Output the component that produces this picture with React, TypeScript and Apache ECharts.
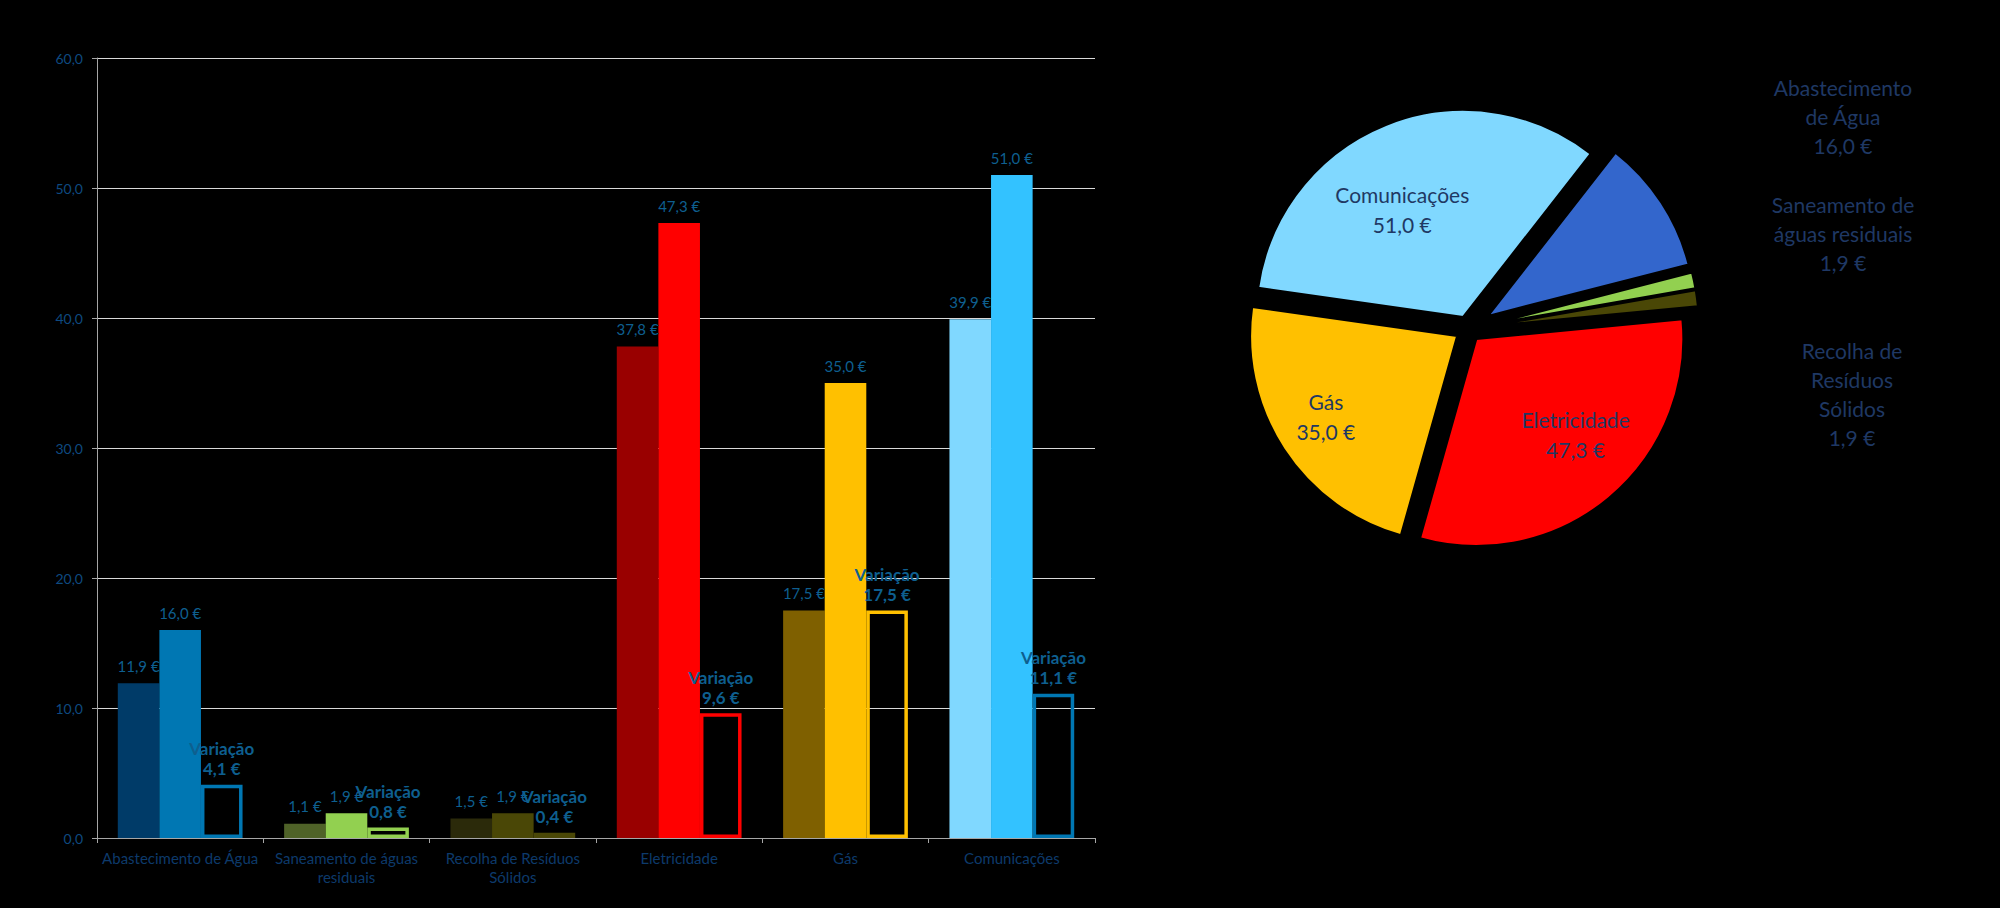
import React, { useEffect, useRef } from 'react';
import * as echarts from 'echarts';

const categories = ['Abastecimento de Água', 'Saneamento de águas residuais', 'Recolha de Resíduos Sólidos', 'Eletricidade', 'Gás', 'Comunicações'];
const axisLabels = ['Abastecimento de Água', 'Saneamento de águas\nresiduais', 'Recolha de Resíduos\nSólidos', 'Eletricidade', 'Gás', 'Comunicações'];
const pieNames = ['Abastecimento\nde Água', 'Saneamento de\náguas residuais', 'Recolha de\nResíduos\nSólidos', 'Eletricidade', 'Gás', 'Comunicações'];
const previousValues = [11.9, 1.1, 1.5, 37.8, 17.5, 39.9];
const currentValues = [16.0, 1.9, 1.9, 47.3, 35.0, 51.0];
const variationValues = [4.1, 0.8, 0.4, 9.6, 17.5, 11.1];
const variationTitle = 'Variação';

const prevColors = ['#003B68', '#4F6228', '#2B2A0A', '#990000', '#7F6000', '#80D8FF'];
const curColors = ['#0077B3', '#92D050', '#4A4706', '#FF0000', '#FFC000', '#33C2FF'];
const varColors = ['#0077B3', '#92D050', '#4A4706', '#FF0000', '#FFC000', '#0077B3'];
const pieColors = ['#3366CC', '#92D050', '#4A4706', '#FF0000', '#FFC000', '#80D8FF'];

const FONT = 'Lato, "Open Sans", sans-serif';
const LABEL_COLOR = '#0E5F8F';
const PIE_TEXT = '#1F3864';

const fmt = (v: number) => v.toFixed(1).replace('.', ',') + ' €';

const insideShift: Record<number, [number, number]> = {
  3: [31, 14],
  4: [-42, 22],
  5: [-21, -9],
};

const sideLabelPos: [number, number][] = [
  [1843, 73],
  [1843, 190],
  [1852, 336],
];

function buildOption(): any {
  const big = (i: number) => i >= 3;
  const pieBase = {
    type: 'pie',
    center: [1468, 329],
    radius: 207,
    startAngle: 52,
    clockwise: true,
    selectedMode: 'multiple',
    avoidLabelOverlap: false,
    silent: true,
    emphasis: { disabled: true },
    labelLine: { show: false },
  };
  return {
    animation: false,
    backgroundColor: '#000',
    textStyle: { fontFamily: FONT },
    grid: { left: 97, right: 905, top: 58, bottom: 70 },
    xAxis: {
      type: 'category',
      data: categories,
      axisLine: { lineStyle: { color: '#A6A6A6', width: 1 } },
      axisTick: { show: true, length: 5, lineStyle: { color: '#A6A6A6' } },
      axisLabel: {
        interval: 0,
        margin: 10,
        color: '#0D3A6B',
        fontSize: 15,
        lineHeight: 19,
        fontFamily: FONT,
        formatter: (_v: string, i: number) => axisLabels[i],
      },
    },
    yAxis: {
      type: 'value',
      min: 0,
      max: 60,
      interval: 10,
      axisLine: { show: true, lineStyle: { color: '#A6A6A6', width: 1 } },
      axisTick: { show: true, length: 5, lineStyle: { color: '#A6A6A6' } },
      splitLine: { lineStyle: { color: '#D9D9D9', width: 1 } },
      axisLabel: {
        margin: 14,
        color: '#0E4A80',
        fontSize: 14,
        fontFamily: FONT,
        formatter: (v: number) => v.toFixed(1).replace('.', ','),
      },
    },
    series: [
      {
        type: 'bar',
        name: 'Anterior',
        barGap: '0%',
        barCategoryGap: '25%',
        data: previousValues.map((v, i) => ({ value: v, itemStyle: { color: prevColors[i] } })),
        label: {
          show: true,
          position: 'top',
          distance: 10,
          color: LABEL_COLOR,
          fontSize: 15,
          fontFamily: FONT,
          formatter: (p: any) => fmt(p.value),
        },
      },
      {
        type: 'bar',
        name: 'Atual',
        barGap: '0%',
        barCategoryGap: '25%',
        data: currentValues.map((v, i) => ({ value: v, itemStyle: { color: curColors[i] } })),
        label: {
          show: true,
          position: 'top',
          distance: 10,
          color: LABEL_COLOR,
          fontSize: 15,
          fontFamily: FONT,
          formatter: (p: any) => fmt(p.value),
        },
      },
      {
        type: 'bar',
        name: variationTitle,
        barGap: '0%',
        barCategoryGap: '25%',
        data: variationValues.map((v, i) => ({
          value: v,
          itemStyle: { color: 'rgba(0,0,0,0)', borderColor: varColors[i], borderWidth: 3.5 },
        })),
        label: {
          show: true,
          position: 'top',
          distance: 6,
          color: LABEL_COLOR,
          fontSize: 17,
          fontWeight: 'bold',
          lineHeight: 20,
          fontFamily: FONT,
          formatter: (p: any) => variationTitle + '\n' + fmt(p.value),
        },
      },
      {
        ...pieBase,
        selectedOffset: 13,
        data: currentValues.map((v, i) => ({
          name: categories[i],
          value: v,
          selected: big(i),
          itemStyle: {
            color: big(i) ? pieColors[i] : 'rgba(0,0,0,0)',
            borderColor: big(i) ? '#000' : 'rgba(0,0,0,0)',
            borderWidth: big(i) ? 2 : 0,
          },
          label: { show: big(i) },
        })),
        label: {
          position: 'inside',
          color: PIE_TEXT,
          fontSize: 21,
          lineHeight: 30,
          fontFamily: FONT,
          formatter: (p: any) => pieNames[p.dataIndex] + '\n' + fmt(p.value),
        },
        labelLayout: (p: any) => {
          const s = insideShift[p.dataIndex];
          return s ? { dx: s[0], dy: s[1] } : {};
        },
      },
      {
        ...pieBase,
        selectedOffset: 24,
        data: currentValues.map((v, i) => ({
          name: categories[i],
          value: v,
          selected: !big(i),
          itemStyle: {
            color: !big(i) ? pieColors[i] : 'rgba(0,0,0,0)',
            borderColor: !big(i) ? '#000' : 'rgba(0,0,0,0)',
            borderWidth: !big(i) ? 2 : 0,
          },
        })),
        label: { show: false },
      },
    ],
    graphic: sideLabelPos.map((pos, i) => ({
      type: 'text',
      x: pos[0],
      y: pos[1],
      silent: true,
      style: {
        text: pieNames[i] + '\n' + fmt(currentValues[i]),
        fill: PIE_TEXT,
        fontSize: 21,
        fontFamily: FONT,
        lineHeight: 29,
        textAlign: 'center',
        textVerticalAlign: 'top',
      },
    })),
  };
}

export default function App() {
  const ref = useRef<HTMLDivElement>(null);
  useEffect(() => {
    document.body.style.margin = '0';
    document.body.style.background = '#000';
    const chart = echarts.init(ref.current!, null, { renderer: 'svg' });
    chart.setOption(buildOption());
    return () => chart.dispose();
  }, []);
  return <div ref={ref} style={{ width: 2000, height: 908, background: '#000' }} />;
}
